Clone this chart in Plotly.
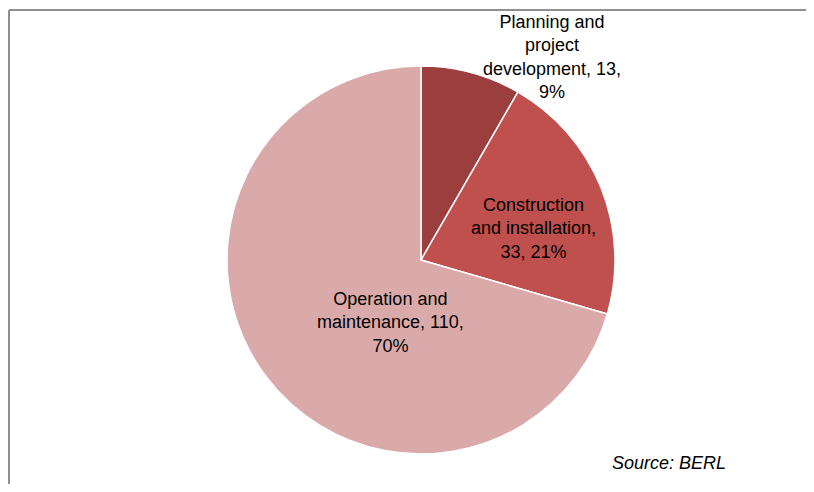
import plotly.graph_objects as go

categories = ["Planning and project development", "Construction and installation", "Operation and maintenance"]
values = [13, 33, 110]
shares = ["9%", "21%", "70%"]
label_lines = [
    ["Planning and", "project", "development, {v},", "{p}"],
    ["Construction", "and installation,", "{v}, {p}"],
    ["Operation and", "maintenance, {v},", "{p}"],
]
colors = ["#9B3E3D", "#C0504D", "#DAAAAA"]
source = "Source: BERL"

OFF = 8  # page body margin
W, H = 814 - 2 * OFF, 492 - 2 * OFF
cx, cy, r = 421 - OFF, 260 - OFF, 194


def px(x):
    return (x - OFF) / W


def py(y):
    return 1 - (y - OFF) / H


fig = go.Figure(go.Pie(
    labels=categories,
    values=values,
    sort=False,
    direction="clockwise",
    rotation=0,
    marker=dict(colors=colors, line=dict(color="white", width=1.5)),
    textinfo="none",
    hoverinfo="label+value+percent",
    showlegend=False,
    domain=dict(x=[(cx - r) / W, (cx + r) / W], y=[1 - (cy + r) / H, 1 - (cy - r) / H]),
))

label_pos = [(552, 57), (533, 228), (390, 322)]
annotations = []
for lines, v, p, (lx, ly) in zip(label_lines, values, shares, label_pos):
    txt = "<br>".join(l.format(v=v, p=p) for l in lines)
    annotations.append(dict(
        x=px(lx), y=py(ly), xref="paper", yref="paper", text=txt, showarrow=False,
        xanchor="center", yanchor="middle", align="center",
        font=dict(family="Liberation Sans, Arial, sans-serif", size=18, color="#000000"),
    ))
annotations.append(dict(
    x=px(669), y=py(463), xref="paper", yref="paper", text="<i>" + source + "</i>",
    showarrow=False, xanchor="center", yanchor="middle",
    font=dict(family="Liberation Sans, Arial, sans-serif", size=18, color="#000000"),
))

shapes = [
    dict(type="line", xref="paper", yref="paper", x0=px(9), x1=1, y0=py(10), y1=py(10),
         line=dict(color="#909090", width=2)),
    dict(type="line", xref="paper", yref="paper", x0=px(9), x1=px(9), y0=0, y1=py(10),
         line=dict(color="#909090", width=2)),
]

fig.update_layout(
    width=W, height=H,
    margin=dict(l=0, r=0, t=0, b=0),
    paper_bgcolor="white", plot_bgcolor="white",
    annotations=annotations, shapes=shapes,
)

fig.write_html("out.html")
